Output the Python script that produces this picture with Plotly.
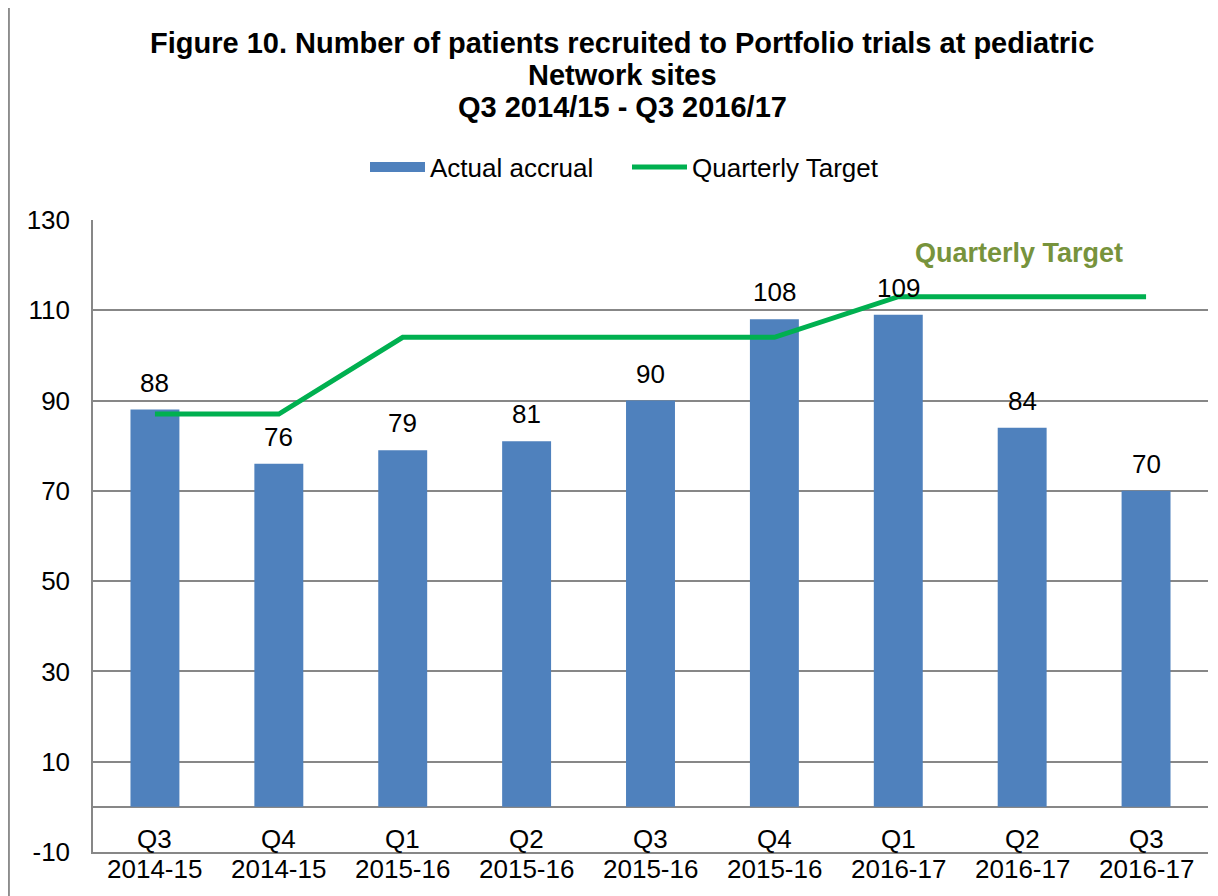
import plotly.graph_objects as go

# Données
quarters = ["Q3", "Q4", "Q1", "Q2", "Q3", "Q4", "Q1", "Q2", "Q3"]
years = ["2014-15", "2014-15", "2015-16", "2015-16", "2015-16",
         "2015-16", "2016-17", "2016-17", "2016-17"]
actual_accrual = [88, 76, 79, 81, 90, 108, 109, 84, 70]
quarterly_target = [87, 87, 104, 104, 104, 104, 113, 113, 113]
y_ticks = [-10, 10, 30, 50, 70, 90, 110, 130]
title_lines = ["Figure 10. Number of patients recruited to Portfolio trials at pediatric",
               "Network sites",
               "Q3 2014/15 - Q3 2016/17"]

cats = [f"{q} {y}" for q, y in zip(quarters, years)]
FONT = "Liberation Sans, Arial, sans-serif"
BLUE = "#4F81BD"

# la page a une marge de 8 px : la figure fait donc 1210 x 888
W, H = 1210, 888
L, R, T, B = 85, 10, 212, 44
PH = H - T - B


def py(fig_y):
    # position verticale en px (figure) -> coordonnée paper
    return (H - B - fig_y) / PH


fig = go.Figure()

fig.add_trace(go.Bar(
    x=cats, y=actual_accrual, name="Actual accrual", showlegend=False,
    marker=dict(color=BLUE, line=dict(width=0)),
))

# entrée de légende seule (rectangle large comme dans Excel)
fig.add_trace(go.Scatter(
    x=[None], y=[None], name="Actual accrual", mode="lines",
    line=dict(color=BLUE, width=16),
))

fig.add_trace(go.Scatter(
    x=cats, y=quarterly_target, name="Quarterly Target",
    mode="lines", line=dict(color="#00B050", width=5),
))

annotations = []
# titre sur trois lignes
for txt, fy in zip(title_lines, [35, 67, 99]):
    annotations.append(dict(x=(614 - L) / (W - L - R), y=py(fy), xref="paper", yref="paper",
                            text=f"<b>{txt}</b>", showarrow=False, yanchor="middle",
                            font=dict(size=29, color="black", family=FONT)))
# étiquettes de valeurs au-dessus des barres
for c, v in zip(cats, actual_accrual):
    annotations.append(dict(x=c, y=v, text=str(v), showarrow=False,
                            xref="x", yref="y", yanchor="bottom", yshift=10,
                            font=dict(size=26, color="black", family=FONT)))
# étiquettes de catégories sur deux niveaux
for c, q, yr in zip(cats, quarters, years):
    annotations.append(dict(x=c, y=-7.1, text=q, showarrow=False,
                            xref="x", yref="y", yanchor="middle",
                            font=dict(size=26, color="black", family=FONT)))
    annotations.append(dict(x=c, y=py(861), text=yr, showarrow=False,
                            xref="x", yref="paper", yanchor="middle",
                            font=dict(size=26, color="black", family=FONT)))
annotations.append(dict(x=cats[7], y=122.6, text="<b>Quarterly Target</b>",
                        showarrow=False, xref="x", yref="y", xshift=-3,
                        font=dict(size=27, color="#77933C", family=FONT)))

fig.update_layout(
    width=W, height=H,
    paper_bgcolor="white", plot_bgcolor="white",
    margin=dict(l=L, r=R, t=T, b=B, autoexpand=False),
    font=dict(family=FONT, size=26, color="black"),
    legend=dict(orientation="h", x=357 / W, xref="container", xanchor="left",
                y=1 - 159 / H, yref="container", yanchor="middle",
                font=dict(size=26, family=FONT), traceorder="normal",
                itemwidth=55, entrywidth=192),
    bargap=0.605,
    showlegend=True,
    annotations=annotations,
    shapes=[dict(type="rect", xref="paper", yref="paper",
                 x0=-L / (W - L - R) + 0.0008, x1=1.05, y0=-0.2, y1=py(-4),
                 line=dict(color="#8C8C8C", width=2), layer="below")],
)

fig.update_xaxes(showticklabels=False, showgrid=False, showline=True,
                 linecolor="#878787", linewidth=1.5, ticks="")
fig.update_yaxes(range=[-10, 130], tickvals=y_ticks, ticktext=[str(t) for t in y_ticks],
                 showgrid=True, automargin=False,
                 gridcolor="#878787", gridwidth=1.5, showline=True,
                 linecolor="#878787", linewidth=1.5,
                 zeroline=True, zerolinecolor="#878787", zerolinewidth=1.5,
                 ticks="", ticklabelstandoff=16,
                 tickfont=dict(size=26, color="black", family=FONT))

fig.write_html("out.html")
